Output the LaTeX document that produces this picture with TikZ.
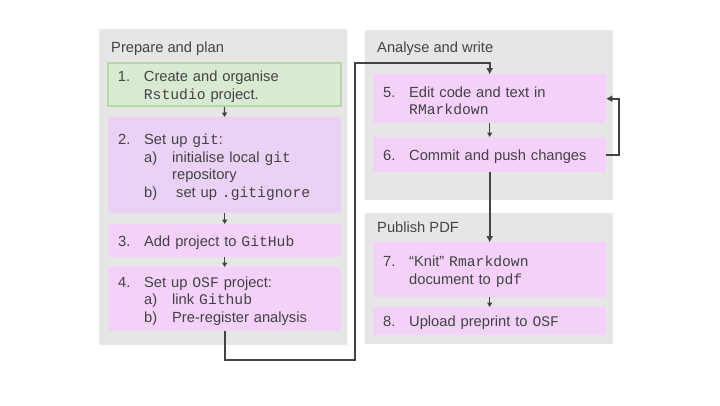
\documentclass[tikz,border=0pt]{standalone}
\usepackage{fontspec}
\setmainfont{Liberation Sans}
\setmonofont{Liberation Mono}
\usetikzlibrary{arrows.meta}

\definecolor{panelgrey}{HTML}{E6E6E6}
\definecolor{stepviolet}{HTML}{F3D1F9}
\definecolor{gitviolet}{HTML}{EAD1F6}
\definecolor{setupgreen}{HTML}{D9EAD3}
\definecolor{setupedge}{HTML}{B6D7A8}
\definecolor{inkgrey}{HTML}{434343}

% list indents
\newlength{\numw}\setlength{\numw}{26pt}
\newlength{\subw}\setlength{\subw}{28pt}
\newcommand{\stepno}[1]{\rule{0pt}{14.6pt}\makebox[\numw][l]{#1}}
\newcommand{\subno}[1]{\hspace*{\numw}\makebox[\subw][l]{#1}}
\newcommand{\stepcont}{\hspace*{\numw}}

\begin{document}
\begin{tikzpicture}[x=1pt,y=-1pt,font=\fontsize{14.7}{17.7}\selectfont,text=inkgrey]
% ----- columns (x) & rows (y) -----
\def\xPlan{108}
\def\xWrite{373}

% styles
\tikzset{
  panel/.style={fill=panelgrey},
  title/.style={anchor=base west,inner sep=0pt},
  stepbox/.style={anchor=north west,fill=stepviolet,inner xsep=10pt,inner ysep=0pt,
    text width=213pt,align=left,minimum height=#1},
  wire/.style={draw=inkgrey,line width=2pt,-{Triangle[length=6pt,width=6pt]}},
  nudge/.style={draw=inkgrey,line width=1.3pt,-{Triangle[length=4.5pt,width=5pt]}}
}

\useasboundingbox (0,0) rectangle (720,405);

% ----- panels -----
\fill[panel] (99,29) rectangle (347,345);
\fill[panel] (365,30) rectangle (613,200);
\fill[panel] (365,213) rectangle (613,344);

\node[title] (tplan) at (111,52) {Prepare and plan};
\node[title] (twrite) at (377,52) {Analyse and write};
\node[title] (tpub) at (377,232) {Publish PDF};

% ===== Prepare and plan =====
\node[stepbox=43pt,fill=setupgreen,draw=setupedge,line width=1.8pt] (s1) at (\xPlan-1,62)
  {\stepno{1.}Create and organise\\ \stepcont\texttt{Rstudio} project.};
\node[stepbox=96pt,fill=gitviolet] (s2) at (\xPlan,117)
  {\stepno{2.}Set up \texttt{git}:\\
   \subno{a)}initialise local \texttt{git}\\
   \stepcont\hspace*{\subw}repository\\
   \subno{b)}\hspace*{4pt}set up \texttt{.gitignore}};
\node[stepbox=33pt] (s3) at (\xPlan,224)
  {\stepno{3.}Add project to \texttt{GitHub}};
\node[stepbox=64pt] (s4) at (\xPlan,267)
  {\stepno{4.}Set up \texttt{OSF} project:\\
   \subno{a)}link \texttt{Github}\\
   \subno{b)}Pre-register analysis};

% ===== Analyse and write =====
\node[stepbox=49pt] (s5) at (\xWrite,74)
  {\stepno{5.}Edit code and text in\\ \stepcont\texttt{RMarkdown}};
\node[stepbox=35pt] (s6) at (\xWrite,137)
  {\stepno{6.}Commit and push changes};

% ===== Publish PDF =====
\node[stepbox=55pt] (s7) at (\xWrite,242)
  {\stepno{7.}“Knit” \texttt{Rmarkdown}\\ \stepcont document to \texttt{pdf}};
\node[stepbox=28pt] (s8) at (\xWrite,307)
  {\stepno{8.}Upload preprint to \texttt{OSF}};

% ----- short steps -----
\draw[nudge] (s1) -- (s2);
\draw[nudge] (s2) -- (s3);
\draw[nudge] (s3) -- (s4);
\draw[nudge] (s5) -- (s6);
\draw[nudge] (s7) -- (s8);

% ----- long connectors -----
\coordinate (low) at (355,360);
\coordinate (high) at (355,62.5);
\draw[wire] (s4.south) |- (low) -- (high) -| (s5.north);
\draw[wire] (s6.east) -- ++(13,0) |- (s5.east);
\draw[wire] (s6) -- (s7);
\end{tikzpicture}
\end{document}
